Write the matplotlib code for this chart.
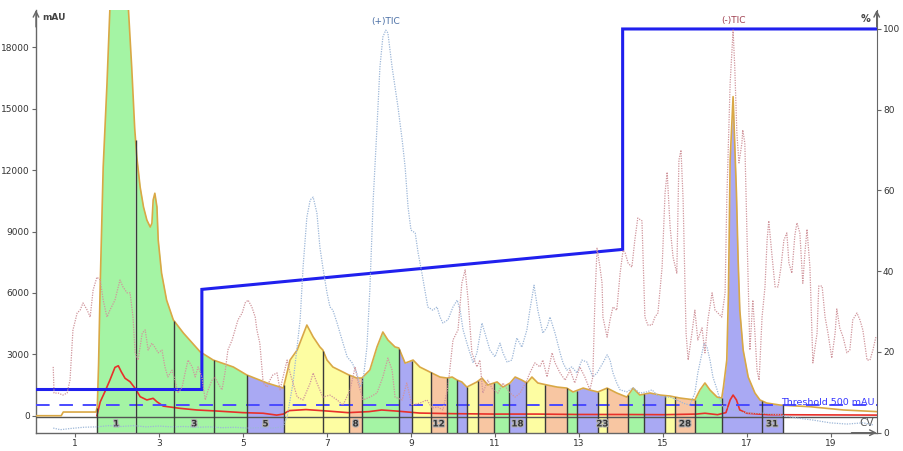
import numpy as np
import matplotlib
matplotlib.use("Agg")
import matplotlib.pyplot as plt
import matplotlib.patheffects as pe

# ---------------- data ----------------
# UV trace (mAU) vs time (min)
uv_time = [0.07, 0.67, 0.72, 1.50, 1.53, 1.56, 1.60, 1.67, 1.76, 1.83,
           1.95, 2.05, 2.15, 2.27, 2.35, 2.42, 2.47, 2.55, 2.63, 2.71,
           2.79, 2.83, 2.86, 2.90, 2.95, 2.98, 3.06, 3.18, 3.34, 3.58,
           3.98, 4.29, 4.77, 5.09, 5.57, 5.96, 6.12, 6.29, 6.52, 6.67,
           6.83, 6.90, 7.00, 7.14, 7.38, 7.52, 7.71, 7.83, 8.02, 8.19,
           8.33, 8.45, 8.62, 8.71, 8.86, 9.05, 9.21, 9.45, 9.69, 9.86,
           9.98, 10.10, 10.21, 10.33, 10.57, 10.69, 10.83, 11.05, 11.19, 11.36,
           11.48, 11.64, 11.76, 11.88, 12.02, 12.24, 12.48, 12.71, 12.86, 13.10,
           13.26, 13.45, 13.67, 13.90, 14.14, 14.29, 14.45, 14.69, 14.93, 15.17,
           15.40, 15.76, 15.88, 16.00, 16.12, 16.29, 16.40, 16.44, 16.52, 16.56,
           16.60, 16.67, 16.75, 16.79, 16.83, 16.91, 17.03, 17.19, 17.31, 17.47,
           17.79, 18.50, 19.30, 20.09]
uv_mau = [0, 0, 180, 180, 450, 2500, 6480, 12150, 16200, 19900,
          24000, 26000, 24000, 19900, 17000, 14060, 12640, 11170, 10200, 9560,
          9220, 9400, 10540, 10870, 10200, 8590, 6970, 5650, 4680, 4040,
          3120, 2720, 2380, 1990, 1600, 1350, 2720, 3210, 4430, 3850,
          3360, 3210, 2720, 2380, 2135, 1990, 1840, 1840, 2230, 3360,
          4090, 3700, 3360, 3310, 2570, 2720, 2380, 2135, 1890, 1840,
          1890, 1740, 1650, 1400, 1650, 1840, 1500, 1650, 1400, 1600,
          1890, 1740, 1600, 1890, 1600, 1500, 1400, 1350, 1160, 1350,
          1255, 1160, 1350, 1110, 910, 1350, 1010, 1110, 1010, 960,
          865, 770, 1255, 1600, 1255, 910, 865, 1400, 2720, 5990,
          12490, 15590, 10880, 7610, 5160, 3210, 1890, 1110, 770, 620,
          520, 440, 280, 200]

# second UV wavelength (mAU)
red_time = [1.52, 1.60, 1.71, 1.83, 1.95, 2.03, 2.10, 2.19, 2.31, 2.43,
            2.55, 2.71, 2.86, 2.95, 3.10, 3.50, 3.90, 4.37, 5.00, 5.48,
            5.80, 5.96, 6.10, 6.50, 7.00, 7.50, 8.00, 8.30, 8.70, 9.20,
            10.0, 11.0, 12.0, 13.0, 14.0, 15.0, 15.8, 16.0, 16.3, 16.5,
            16.6, 16.67, 16.75, 16.83, 17.0, 17.5, 20.09]
red_mau = [0, 680, 1170, 1740, 2360, 2440, 2150, 1830, 1660, 1340,
           930, 770, 850, 680, 470, 360, 280, 230, 150, 120,
           30, 80, 250, 300, 230, 150, 200, 280, 220, 130,
           100, 80, 80, 60, 60, 50, 80, 120, 50, 150,
           770, 1010, 770, 280, 120, 50, 30]

# baseline trace (mAU)
base_time = [0.07, 20.09]
base_mau = [-60, -60]

# (+)TIC relative intensity (%)
pos_time = [0.48, 0.65, 0.90, 1.20, 1.52, 1.80, 2.10, 2.40, 2.70, 3.00,
            3.30, 3.60, 3.90, 4.20, 4.50, 4.80, 5.10, 5.40, 5.70, 5.95,
            6.05, 6.19, 6.36, 6.43, 6.52, 6.60, 6.67, 6.76, 6.83, 6.90,
            7.00, 7.07, 7.14, 7.24, 7.31, 7.48, 7.60, 7.71, 7.79, 7.86,
            7.95, 8.02, 8.10, 8.19, 8.26, 8.33, 8.40, 8.45, 8.55, 8.62,
            8.69, 8.79, 8.86, 8.93, 9.00, 9.10, 9.17, 9.26, 9.33, 9.40,
            9.52, 9.62, 9.69, 9.76, 9.88, 10.00, 10.10, 10.17, 10.24, 10.36,
            10.48, 10.57, 10.69, 10.76, 10.88, 11.00, 11.12, 11.19, 11.29, 11.40,
            11.52, 11.64, 11.76, 11.83, 11.93, 12.02, 12.14, 12.24, 12.31, 12.43,
            12.55, 12.62, 12.71, 12.83, 12.95, 13.07, 13.19, 13.33, 13.43, 13.57,
            13.67, 13.74, 13.81, 13.90, 13.98, 14.14, 14.29, 14.45, 14.62, 14.74,
            14.86, 15.00, 15.17, 15.33, 15.48, 15.64, 15.76, 15.83, 15.93, 15.98,
            16.05, 16.12, 16.19, 16.29, 16.36, 16.43, 16.55, 16.67, 16.83, 17.07,
            17.38, 17.79, 18.19, 18.57, 18.98, 19.38, 19.76, 20.00]
pos_pct = [0.6, 0.2, 0.5, 0.8, 0.9, 1.2, 1.0, 1.2, 0.9, 1.1,
           0.9, 1.0, 0.8, 0.9, 0.7, 0.8, 0.6, 0.7, 0.6, 0.9,
           3.4, 11.8, 27.5, 40.6, 53.0, 57.3, 58.0, 54.0, 45.6, 40.6,
           34.2, 30.7, 29.9, 26.7, 24.2, 18.3, 16.8, 14.3, 10.8, 12.5,
           20.7, 34.9, 57.3, 75.4, 90.3, 97.8, 99.5, 98.8, 90.3, 85.3,
           80.4, 72.2, 65.5, 55.5, 49.8, 49.1, 44.1, 39.1, 34.9, 30.7,
           29.9, 30.7, 28.2, 26.7, 27.5, 30.7, 32.4, 29.9, 25.0, 20.7,
           16.8, 19.3, 26.7, 24.2, 20.0, 18.3, 21.7, 19.3, 17.0, 17.5,
           23.0, 20.7, 25.0, 29.9, 36.1, 29.9, 24.2, 25.7, 28.2, 24.2,
           19.3, 16.8, 15.0, 15.8, 14.3, 17.5, 17.0, 13.3, 14.3, 16.8,
           18.8, 17.5, 14.3, 11.8, 10.1, 9.6, 10.6, 9.3, 9.6, 10.1,
           8.8, 8.3, 8.3, 7.6, 6.8, 6.3, 9.3, 14.3, 19.3, 21.7,
           20.7, 17.5, 13.3, 10.1, 7.6, 5.8, 5.6, 5.1, 4.6, 4.3,
           4.3, 3.9, 3.1, 2.6, 1.9, 1.6, 1.9, 1.4]

# (-)TIC relative intensity (%)
neg_time = [0.48, 0.50, 0.60, 0.71, 0.81, 0.88, 0.95, 1.05, 1.12, 1.19,
            1.29, 1.36, 1.43, 1.52, 1.60, 1.67, 1.76, 1.83, 1.95, 2.07,
            2.14, 2.24, 2.31, 2.38, 2.43, 2.50, 2.60, 2.67, 2.74, 2.83,
            2.90, 2.98, 3.07, 3.14, 3.21, 3.31, 3.38, 3.45, 3.55, 3.62,
            3.69, 3.79, 3.86, 3.93, 4.02, 4.10, 4.17, 4.26, 4.33, 4.40,
            4.50, 4.57, 4.64, 4.74, 4.81, 4.88, 4.98, 5.05, 5.12, 5.21,
            5.29, 5.33, 5.40, 5.48, 5.57, 5.64, 5.71, 5.81, 5.88, 6.05,
            6.12, 6.19, 6.29, 6.43, 6.60, 6.67, 6.76, 6.90, 7.07, 7.24,
            7.38, 7.55, 7.67, 7.74, 7.86, 8.02, 8.19, 8.33, 8.45, 8.55,
            8.62, 8.79, 8.90, 9.02, 9.21, 9.38, 9.50, 9.64, 9.76, 9.88,
            10.00, 10.12, 10.21, 10.29, 10.36, 10.45, 10.57, 10.64, 10.71, 10.83,
            10.95, 11.07, 11.19, 11.36, 11.48, 11.60, 11.76, 11.83, 11.95, 12.07,
            12.14, 12.24, 12.36, 12.43, 12.55, 12.67, 12.79, 12.90, 13.02, 13.14,
            13.26, 13.33, 13.38, 13.43, 13.50, 13.55, 13.57, 13.67, 13.74, 13.81,
            13.90, 13.98, 14.05, 14.10, 14.17, 14.26, 14.33, 14.40, 14.50, 14.57,
            14.64, 14.74, 14.81, 14.88, 14.98, 15.05, 15.10, 15.17, 15.24, 15.33,
            15.38, 15.43, 15.48, 15.55, 15.60, 15.69, 15.76, 15.83, 15.93, 16.00,
            16.07, 16.17, 16.24, 16.31, 16.40, 16.48, 16.52, 16.60, 16.67, 16.71,
            16.76, 16.81, 16.88, 16.90, 16.95, 17.00, 17.07, 17.14, 17.19, 17.24,
            17.29, 17.36, 17.43, 17.48, 17.52, 17.60, 17.67, 17.74, 17.81, 17.88,
            17.95, 18.00, 18.07, 18.14, 18.19, 18.26, 18.33, 18.38, 18.43, 18.50,
            18.57, 18.67, 18.71, 18.79, 18.86, 18.93, 19.02, 19.10, 19.14, 19.21,
            19.29, 19.38, 19.45, 19.52, 19.62, 19.69, 19.76, 19.86, 19.93, 20.00,
            20.07]
neg_pct = [15.8, 9.3, 9.3, 8.8, 9.3, 12.5, 25.0, 29.2, 29.9, 31.7,
           29.9, 28.2, 34.9, 38.1, 37.4, 32.4, 28.2, 29.9, 32.4, 37.4,
           35.7, 34.2, 34.2, 28.2, 19.3, 17.5, 24.2, 25.0, 20.0, 21.7,
           20.7, 19.3, 20.0, 15.8, 13.3, 15.0, 12.5, 9.3, 10.8, 14.3,
           17.5, 15.8, 13.3, 15.8, 13.3, 7.6, 10.1, 12.5, 13.3, 11.8,
           10.1, 14.3, 20.0, 22.5, 25.0, 27.5, 29.2, 31.7, 32.4, 30.7,
           28.2, 25.0, 21.7, 11.8, 10.8, 12.5, 13.8, 14.3, 10.1, 17.5,
           14.3, 11.8, 8.3, 7.6, 11.8, 14.3, 11.8, 8.3, 8.8, 7.6,
           6.3, 10.1, 15.8, 11.8, 7.6, 8.3, 9.3, 13.3, 18.0, 15.0,
           8.3, 7.6, 11.8, 6.3, 6.8, 7.6, 5.6, 5.8, 5.1, 10.8,
           22.5, 25.0, 36.6, 39.9, 32.4, 19.3, 15.8, 17.5, 9.3, 12.5,
           10.1, 9.3, 11.8, 9.3, 8.3, 9.3, 12.5, 14.3, 16.8, 15.8,
           17.5, 13.3, 19.3, 16.8, 14.3, 12.5, 15.0, 11.8, 15.8, 13.3,
           10.1, 13.3, 32.4, 45.3, 40.6, 36.6, 28.2, 23.2, 27.5, 30.7,
           29.9, 39.1, 44.8, 44.1, 41.6, 40.6, 47.3, 52.8, 52.1, 28.2,
           26.2, 26.2, 28.2, 29.2, 40.6, 59.0, 64.2, 50.6, 43.1, 39.1,
           67.2, 69.7, 57.3, 24.2, 17.5, 24.2, 29.9, 22.5, 25.5, 19.3,
           27.5, 34.2, 29.9, 29.2, 28.2, 34.2, 57.3, 86.3, 99.5, 90.3,
           73.9, 66.5, 71.4, 74.7, 71.4, 49.1, 20.0, 32.4, 24.2, 15.0,
           12.5, 28.2, 35.7, 47.3, 52.1, 43.1, 35.7, 35.7, 40.6, 47.3,
           49.1, 41.6, 39.1, 48.4, 51.6, 49.1, 36.6, 44.1, 50.0, 40.6,
           16.8, 24.2, 35.9, 35.9, 28.2, 24.2, 18.0, 24.2, 30.2, 25.5,
           23.2, 19.3, 20.0, 27.5, 29.2, 27.5, 25.0, 17.5, 17.5, 20.0,
           23.2]

# gradient (%B)
grad_time = [0.07, 4.02, 4.02, 14.04, 14.04, 20.09]
grad_pct = [10.7, 10.7, 35.5, 45.4, 100.0, 100.0]

threshold_mau = 500

# fractions
frac_edges = [1.52, 2.44, 3.36, 4.32, 5.09, 5.98, 6.91, 7.52, 7.84, 8.72,
              9.02, 9.47, 9.85, 10.09, 10.33, 10.59, 10.97, 11.33, 11.74, 12.19,
              12.71, 12.95, 13.46, 13.66, 14.17, 14.55, 15.05, 15.29, 15.76, 16.40,
              17.35, 17.85]
frac_group = ['G', 'G', 'G', 'G', 'B', 'Y', 'Y', 'S', 'G', 'B',
              'Y', 'S', 'G', 'B', 'Y', 'S', 'G', 'B', 'Y', 'S',
              'G', 'B', 'Y', 'S', 'G', 'B', 'Y', 'S', 'G', 'B', 'B']
frac_labelled = [1, 3, 5, 8, 12, 18, 23, 28, 31]

x_ticks = [1, 3, 5, 7, 9, 11, 13, 15, 17, 19]
left_ticks = [0, 3000, 6000, 9000, 12000, 15000, 18000]
right_ticks = [0, 20, 40, 60, 80, 100]

# ---------------- style ----------------
group_colors = {'G': '#a4f4a4', 'B': '#a9a9f3', 'Y': '#fdfda2', 'S': '#f8c6a2'}
W, H = 904, 451
fig = plt.figure(figsize=(W / 100, H / 100), dpi=100)
ax = fig.add_axes([36 / W, 1 - 432.7 / H, (876.7 - 36) / W, (432.7 - 10) / H])
ax.set_xlim(0.07, 20.09)
ax.set_ylim(-830, 19823)
ybot = ax.get_ylim()[0]

t = np.asarray(uv_time)
v = np.asarray(uv_mau)

# fraction fills
for i in range(len(frac_edges) - 1):
    a, b = frac_edges[i], frac_edges[i + 1]
    inside = (t > a) & (t < b)
    ts = np.concatenate([[a], t[inside], [b]])
    vs = np.interp(ts, t, v)
    ax.fill_between(ts, ybot, vs, color=group_colors[frac_group[i]], lw=0, zorder=1)

# fraction boundaries
edges = np.asarray(frac_edges)
ax.vlines(edges, ybot, np.interp(edges, t, v), color='#3a3a3a', lw=1.0, zorder=4)

# traces
ax.plot(base_time, base_mau, color='#555555', lw=1.0, zorder=3)
ax.plot(uv_time, uv_mau, color='#d9a845', lw=1.2, zorder=3)
ax.plot(red_time, red_mau, color='#e8302a', lw=1.2, zorder=3)
ax.axhline(threshold_mau, color='#4a4aff', lw=1.4, dashes=(7, 5), zorder=3)
ax.text(20.04, threshold_mau + 30, 'Threshold 500 mAU', color='#3535ff', fontsize=6.8,
        ha='right', va='baseline', zorder=5)
ax.text(20.03, -340, 'CV', color='#555555', fontsize=7.5, ha='right', va='center', zorder=5)

# fraction labels
for n in frac_labelled:
    a, b = frac_edges[n - 1], frac_edges[n]
    ax.text((a + b) / 2, -400, str(n), fontsize=6.3, fontweight='bold', color='#333333',
            ha='center', va='center', zorder=6,
            path_effects=[pe.withStroke(linewidth=1.6, foreground='#b0b0b0')])

# axes styling
for s in ['top', 'right']:
    ax.spines[s].set_visible(False)
for s in ['left', 'bottom']:
    ax.spines[s].set_color('#666666')
    ax.spines[s].set_linewidth(1.0)
ax.set_xticks(x_ticks)
ax.set_yticks(left_ticks)
ax.tick_params(axis='both', direction='out', length=3, width=0.8, color='#666666',
               labelsize=6.5, labelcolor='#333333', pad=1.5)

ax2 = ax.twinx()
ax2.set_ylim(0, 104.7)
for s in ['top', 'left', 'bottom']:
    ax2.spines[s].set_visible(False)
ax2.spines['right'].set_color('#666666')
ax2.set_yticks(right_ticks)
ax2.tick_params(axis='y', direction='out', length=3, width=0.8, color='#666666',
                labelsize=6.5, labelcolor='#333333', pad=1.5)
ax2.plot(grad_time, grad_pct, color='#2020ee', lw=2.2, zorder=5, solid_joinstyle='miter')

ax3 = ax.twinx()
ax3.set_ylim(-0.55, 104.5)
ax3.axis('off')
ax3.plot(pos_time, pos_pct, color='#9db7d8', lw=0.9, ls=(0, (1, 1)))
ax3.plot(neg_time, neg_pct, color='#d0959c', lw=0.9, ls=(0, (1, 1)))
ax3.text(8.40, 100.6, '(+)TIC', color='#4a6fa5', fontsize=6.5, ha='center', va='bottom')
ax3.text(16.67, 100.8, '(-)TIC', color='#a04050', fontsize=6.5, ha='center', va='bottom')

# axis arrows
arr = dict(arrowstyle='->', color='#666666', lw=1.0, shrinkA=0, shrinkB=0)
ax.annotate('', xy=(0, 1.0), xytext=(0, 0.96), xycoords='axes fraction', arrowprops=arr)
ax.annotate('', xy=(1, 1.0), xytext=(1, 0.96), xycoords='axes fraction', arrowprops=arr)
ax.annotate('', xy=(1.0, 0), xytext=(0.97, 0), xycoords='axes fraction', arrowprops=arr)

fig.text(42 / W, 1 - 18 / H, 'mAU', fontsize=6.5, color='#444444', ha='left', va='center',
         fontweight='bold')
fig.text(866 / W, 1 - 19 / H, '%', fontsize=7, color='#444444', ha='center', va='center',
         fontweight='bold')

fig.savefig('out.png', dpi=100)
